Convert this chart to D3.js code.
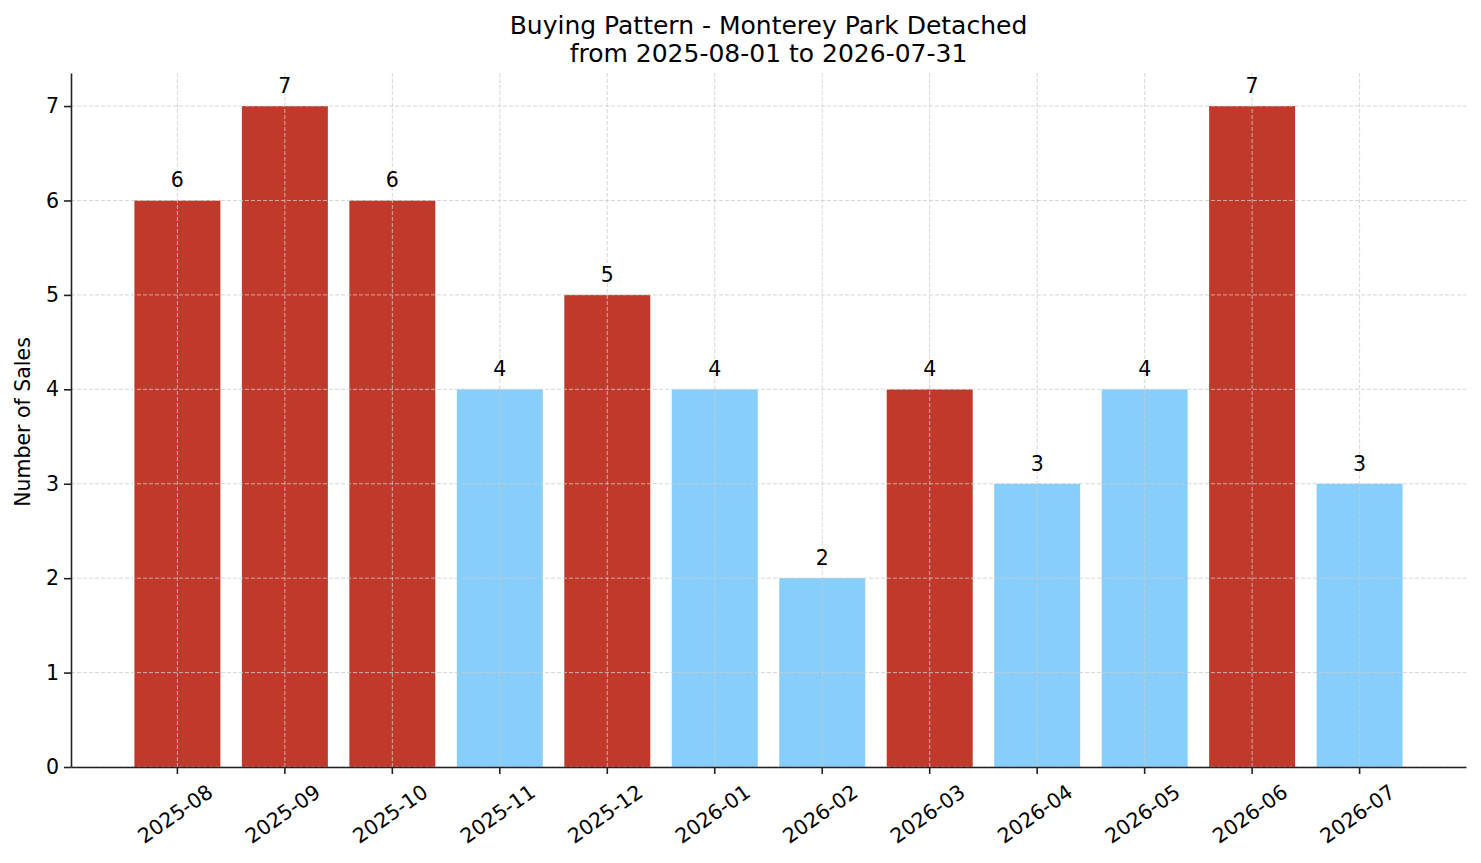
<!DOCTYPE html>
<meta charset="utf-8">
<style>
body { margin: 0; background: #fff; }
svg { display: block; font-family: "DejaVu Sans", sans-serif; }
.grid line { stroke: #cccccc; stroke-width: 0.8; stroke-dasharray: 4,2; }
.axis path, .axis line { stroke: #222; }
</style>
<svg width="1481" height="863"></svg>
<script src="https://d3js.org/d3.v7.min.js"></script>
<script>

var months = ["2025-08", "2025-09", "2025-10", "2025-11", "2025-12", "2026-01",
              "2026-02", "2026-03", "2026-04", "2026-05", "2026-06", "2026-07"];
var sales = [6, 7, 6, 4, 5, 4, 2, 4, 3, 4, 7, 3];
var highlight = [true, true, true, false, true, false, false, true, false, false, true, false];
var yTicks = [0, 1, 2, 3, 4, 5, 6, 7];
var titleLines = ["Buying Pattern - Monterey Park Detached", "from 2025-08-01 to 2026-07-31"];

var svg = d3.select("svg"),
    margin = {top: 73, right: 15, bottom: 96, left: 71},
    width = +svg.attr("width") - margin.left - margin.right,
    height = +svg.attr("height") - margin.top - margin.bottom;

var x = d3.scaleBand().domain(months).range([0, width]).paddingInner(0.2).paddingOuter(0.59),
    y = d3.scaleLinear().domain([0, 7.35]).range([height, 0]);

var g = svg.append("g")
    .attr("transform", "translate(" + margin.left + "," + margin.top + ")");

// bars
g.selectAll(".bar")
  .data(months)
  .enter().append("rect")
  .attr("class", "bar")
  .attr("x", function(d) { return x(d); })
  .attr("y", function(d, i) { return y(sales[i]); })
  .attr("width", x.bandwidth())
  .attr("height", function(d, i) { return height - y(sales[i]); })
  .attr("fill", function(d, i) { return highlight[i] ? "#c0392b" : "#87cefa"; });

// grid on top of bars, like the original
var grid = g.append("g").attr("class", "grid");
grid.selectAll(".gy")
  .data(yTicks)
  .enter().append("line")
  .attr("x1", 0).attr("x2", width)
  .attr("y1", function(d) { return y(d); })
  .attr("y2", function(d) { return y(d); });
grid.selectAll(".gx")
  .data(months)
  .enter().append("line")
  .attr("x1", function(d) { return x(d) + x.bandwidth() / 2; })
  .attr("x2", function(d) { return x(d) + x.bandwidth() / 2; })
  .attr("y1", 0).attr("y2", height);

// value labels
g.selectAll(".val")
  .data(months)
  .enter().append("text")
  .attr("class", "val")
  .attr("x", function(d) { return x(d) + x.bandwidth() / 2; })
  .attr("y", function(d, i) { return y(sales[i]) - 13; })
  .attr("text-anchor", "middle")
  .attr("font-size", 20.5)
  .text(function(d, i) { return sales[i]; });

// axes
var yAxis = g.append("g")
  .attr("class", "axis")
  .call(d3.axisLeft(y).tickValues(yTicks).tickSize(7).tickPadding(5).tickSizeOuter(0));
yAxis.selectAll("text").attr("font-size", 20.5).attr("fill", "#000").attr("font-family", "DejaVu Sans");
yAxis.select(".domain").attr("stroke-width", 1.6);
yAxis.selectAll(".tick line").attr("stroke-width", 1.6);

var xAxis = g.append("g")
  .attr("class", "axis")
  .attr("transform", "translate(0," + height + ")")
  .call(d3.axisBottom(x).tickSize(7).tickSizeOuter(0));
xAxis.select(".domain").attr("stroke-width", 1.6);
xAxis.selectAll(".tick line").attr("stroke-width", 1.6);
xAxis.selectAll(".tick text")
  .attr("font-size", 20.5)
  .attr("fill", "#000")
  .attr("font-family", "DejaVu Sans")
  .attr("text-anchor", "middle")
  .attr("dy", null)
  .attr("y", 0)
  .attr("dominant-baseline", "central")
  .attr("transform", "translate(-2,47) rotate(-35)");

// y label
g.append("text")
  .attr("transform", "translate(" + (23 - margin.left) + "," + (height / 2 + 2) + ") rotate(-90)")
  .attr("text-anchor", "middle")
  .attr("dominant-baseline", "central")
  .attr("font-size", 20.5)
  .text("Number of Sales");

// title
svg.selectAll(".title")
  .data(titleLines)
  .enter().append("text")
  .attr("class", "title")
  .attr("x", margin.left + width / 2)
  .attr("y", function(d, i) { return 34 + i * 28; })
  .attr("text-anchor", "middle")
  .attr("font-size", 25)
  .text(function(d) { return d; });

</script>
